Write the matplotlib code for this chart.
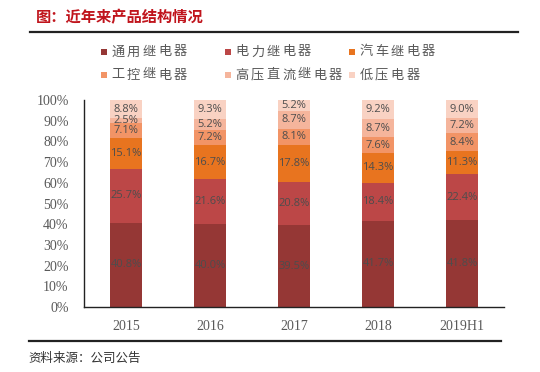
import matplotlib
matplotlib.use("Agg")
import matplotlib.pyplot as plt
from matplotlib.patches import Rectangle
from matplotlib.lines import Line2D
import numpy as np

plt.rcParams['font.family'] = ['Noto Sans CJK SC', 'DejaVu Sans']

years = ["2015", "2016", "2017", "2018", "2019H1"]
series_names = ["通用继电器", "电力继电器", "汽车继电器", "工控继电器", "高压直流继电器", "低压电器"]
general = [40.8, 40.0, 39.5, 41.7, 41.8]
power = [25.7, 21.6, 20.8, 18.4, 22.4]
auto = [15.1, 16.7, 17.8, 14.3, 11.3]
industrial = [7.1, 7.2, 8.1, 7.6, 8.4]
hvdc = [2.5, 5.2, 8.7, 8.7, 7.2]
lowvolt = [8.8, 9.3, 5.2, 9.2, 9.0]
yticks = [0, 10, 20, 30, 40, 50, 60, 70, 80, 90, 100]

series = [general, power, auto, industrial, hvdc, lowvolt]
colors = ["#953735", "#BC4747", "#E8741F", "#F29466", "#F5B59C", "#F9D2C3"]

W, H = 540, 372
fig = plt.figure(figsize=(W / 100, H / 100), dpi=100)
ax = fig.add_axes([84 / W, 1 - 307 / H, 420 / W, 207 / H])

x = np.arange(len(years))
bottom = np.zeros(len(years))
for vals, c in zip(series, colors):
    v = np.array(vals)
    ax.bar(x, v, 0.39, bottom=bottom, color=c, linewidth=0)
    for xi, b, vi in zip(x, bottom, v):
        ax.text(xi, b + vi / 2, f"{vi:.1f}%", ha="center", va="center",
                fontsize=8, color="#4d4d4d", family=["Open Sans", "DejaVu Sans"])
    bottom = bottom + v

ax.set_xlim(-0.5, len(years) - 0.5)
ax.set_ylim(0, 100)
ax.set_yticks(yticks)
ax.set_yticklabels([f"{t}%" for t in yticks], family="Liberation Serif",
                   fontsize=10, color="#595959")
ax.set_xticks(x)
ax.set_xticklabels(years, family="Liberation Serif", fontsize=10, color="#595959")
ax.tick_params(axis="y", length=0, pad=11)
ax.tick_params(axis="x", length=0, pad=9)
for s in ["top", "right"]:
    ax.spines[s].set_visible(False)
for s in ["left", "bottom"]:
    ax.spines[s].set_color("#222222")
    ax.spines[s].set_linewidth(1.0)

# Title
fig.text(36 / W, 1 - 17 / H, "图：近年来产品结构情况", fontsize=11, fontweight="bold",
         color="#C0141C", ha="left", va="center")
# Rules
fig.add_artist(Line2D([30 / W, 518 / W], [1 - 32 / H, 1 - 32 / H], color="#222222", lw=1.6))
fig.add_artist(Line2D([29 / W, 501 / W], [1 - 341 / H, 1 - 341 / H], color="#222222", lw=1.6))

# Legend (fixed-width columns with spaced characters)
col_x = [104, 228, 352]
row_y = [52, 75]
step = 15.6
for i, (name, c) in enumerate(zip(series_names, colors)):
    cx = col_x[i % 3]
    cy = row_y[i // 3]
    fig.add_artist(Rectangle(((cx - 3) / W, 1 - (cy + 3) / H), 6 / W, 6 / H,
                             transform=fig.transFigure, color=c, lw=0))
    for k, ch in enumerate(name):
        fig.text((cx + 7 + 7 + k * step) / W, 1 - cy / H, ch, fontsize=9.5,
                 color="#595959", ha="center", va="center")

# Source
fig.text(28 / W, 1 - 358 / H, "资料来源：公司公告", fontsize=9, color="#333333",
         ha="left", va="center")

fig.savefig("out.png", dpi=100)
